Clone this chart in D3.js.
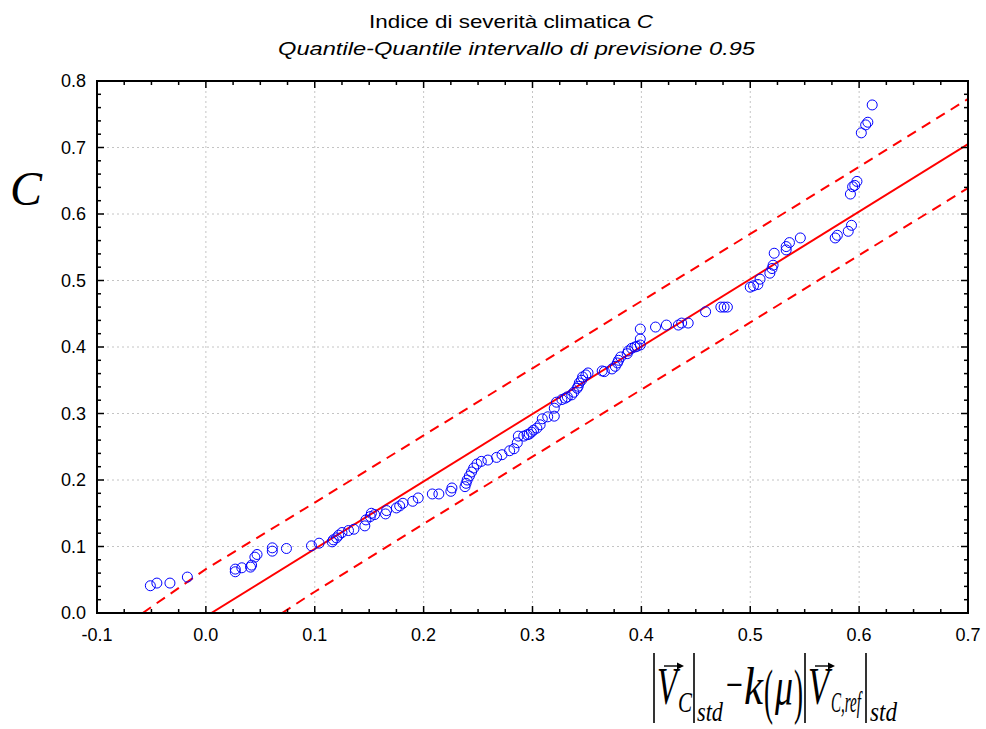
<!DOCTYPE html>
<html>
<head>
<meta charset="utf-8">
<script src="https://cdn.jsdelivr.net/npm/d3@7"></script>
<style>
  body { margin: 0; background: #fff; }
  svg { display: block; }
</style>
</head>
<body>
<svg id="chart" width="986" height="729"></svg>
<script>
// quantile-quantile points: x = |Vc|std - k(mu)|Vc,ref|std, c = C
const qqX = [-0.051,-0.045,-0.033,-0.017,0.027,0.027,0.033,0.041,0.042,0.045,0.047,0.061,0.061,0.074,0.097,0.104,
  0.116,0.117,0.120,0.122,0.125,0.131,0.136,0.146,0.147,0.151,0.152,0.155,0.165,0.166,0.175,0.178,0.181,0.190,0.195,
  0.208,0.214,0.225,0.226,0.238,0.239,0.240,0.242,0.244,0.246,0.249,0.253,0.259,0.267,0.272,0.279,0.283,0.286,0.287,
  0.292,0.295,0.297,0.299,0.301,0.304,0.307,0.309,0.314,0.320,0.320,0.322,0.327,0.330,0.332,0.336,0.338,0.341,0.342,
  0.343,0.345,0.346,0.349,0.351,0.364,0.366,0.373,0.376,0.378,0.379,0.381,0.387,0.388,0.391,0.394,0.396,0.399,0.399,
  0.399,0.413,0.423,0.434,0.437,0.443,0.459,0.473,0.476,0.479,0.500,0.503,0.507,0.509,0.518,0.520,0.521,0.522,0.533,
  0.533,0.536,0.546,0.578,0.580,0.590,0.593,0.592,0.594,0.596,0.598,0.602,0.606,0.608,0.612]
const qqC = [0.041,0.045,0.045,0.054,0.062,0.066,0.068,0.069,0.072,0.084,0.088,0.093,0.098,0.097,0.101,0.105,
  0.107,0.110,0.113,0.117,0.121,0.124,0.126,0.131,0.140,0.145,0.150,0.148,0.149,0.154,0.158,0.161,0.165,0.168,0.173,
  0.179,0.179,0.183,0.188,0.190,0.195,0.200,0.206,0.212,0.218,0.224,0.228,0.230,0.234,0.238,0.244,0.247,0.256,0.266,
  0.266,0.268,0.269,0.272,0.275,0.278,0.283,0.292,0.295,0.296,0.308,0.317,0.321,0.323,0.325,0.328,0.332,0.338,0.341,
  0.346,0.350,0.355,0.358,0.361,0.364,0.363,0.367,0.371,0.376,0.380,0.385,0.390,0.394,0.398,0.400,0.401,0.403,0.412,
  0.427,0.430,0.433,0.433,0.436,0.436,0.453,0.460,0.460,0.460,0.490,0.492,0.494,0.502,0.511,0.518,0.523,0.541,0.546,
  0.551,0.557,0.564,0.564,0.568,0.574,0.583,0.630,0.641,0.643,0.649,0.722,0.734,0.738,0.764]

// fitted line and 0.95 prediction band
const fitLine = [[0.005, 0.0], [0.7, 0.705]]
const upperBand = [[-0.058,0],[0,0.066],[0.1,0.166],[0.2,0.267],[0.3,0.368],[0.4,0.469],[0.5,0.570],[0.6,0.671],[0.7,0.773]]
const lowerBand = [[0.07,0],[0.1,0.032],[0.2,0.134],[0.3,0.235],[0.4,0.336],[0.5,0.437],[0.6,0.538],[0.7,0.639]]

const xTicks = [-0.1, 0.0, 0.1, 0.2, 0.3, 0.4, 0.5, 0.6, 0.7]
const yTicks = [0.0, 0.1, 0.2, 0.3, 0.4, 0.5, 0.6, 0.7, 0.8]

const titleText = 'Indice di severità climatica '
const subtitleText = 'Quantile-Quantile intervallo di previsione 0.95'

const svg = d3.select('#chart')
const L = 97, R = 968, T = 81, B = 613

const x = d3.scaleLinear().domain([-0.1, 0.7]).range([L, R])
const y = d3.scaleLinear().domain([0, 0.8]).range([B, T])
const fmt = d => d3.format('.1f')(d).replace('\u2212', '-')

svg.append('defs').append('clipPath').attr('id', 'plotClip')
    .append('rect').attr('x', L).attr('y', T).attr('width', R - L).attr('height', B - T)

// grid
let grid = svg.append('g')
grid.selectAll('.vg')
    .data(xTicks.slice(1, -1))
    .enter().append('line')
    .attr('x1', d => x(d)).attr('x2', d => x(d))
    .attr('y1', T).attr('y2', B)
    .attr('stroke', '#c4c4c4').attr('stroke-dasharray', '2,3')
grid.selectAll('.hg')
    .data(yTicks.slice(1, -1))
    .enter().append('line')
    .attr('y1', d => y(d)).attr('y2', d => y(d))
    .attr('x1', L).attr('x2', R)
    .attr('stroke', '#c4c4c4').attr('stroke-dasharray', '2,3')

// lines
let line = d3.line().x(d => x(d[0])).y(d => y(d[1]))
let lines = svg.append('g').attr('clip-path', 'url(#plotClip)')
lines.append('path').datum(fitLine)
    .attr('d', line).attr('fill', 'none').attr('stroke', '#ff0000').attr('stroke-width', 2)
;[upperBand, lowerBand].forEach(band => {
    lines.append('path').datum(band)
        .attr('d', line).attr('fill', 'none').attr('stroke', '#ff0000')
        .attr('stroke-width', 2).attr('stroke-dasharray', '10,7')
})

// points
svg.append('g')
    .selectAll('circle')
    .data(qqX.map((d, i) => [d, qqC[i]]))
    .enter().append('circle')
    .attr('cx', d => x(d[0])).attr('cy', d => y(d[1]))
    .attr('r', 5)
    .attr('fill', 'none').attr('stroke', '#0000ff').attr('stroke-width', 1)

// frame with inward ticks on four sides
let xMinor = d3.range(-0.1, 0.7001, 0.025)
let yMinor = d3.range(0, 0.8001, 0.02)
let frame = svg.append('g').attr('stroke', '#000')
frame.append('rect').attr('x', L).attr('y', T).attr('width', R - L).attr('height', B - T)
    .attr('fill', 'none').attr('stroke-width', 2)
const isMajor = v => Math.abs(v * 10 - Math.round(v * 10)) < 1e-6
xMinor.forEach(v => {
    let len = isMajor(v) ? 7 : 4
    frame.append('line').attr('x1', x(v)).attr('x2', x(v)).attr('y1', B).attr('y2', B - len).attr('stroke-width', 1.5)
    frame.append('line').attr('x1', x(v)).attr('x2', x(v)).attr('y1', T).attr('y2', T + len).attr('stroke-width', 1.5)
})
yMinor.forEach(v => {
    let len = isMajor(v) ? 7 : 4
    frame.append('line').attr('y1', y(v)).attr('y2', y(v)).attr('x1', L).attr('x2', L + len).attr('stroke-width', 1.5)
    frame.append('line').attr('y1', y(v)).attr('y2', y(v)).attr('x1', R).attr('x2', R - len).attr('stroke-width', 1.5)
})

// tick labels
svg.append('g')
    .selectAll('text')
    .data(yTicks)
    .enter().append('text')
    .attr('x', 86).attr('y', d => y(d) + 6)
    .attr('text-anchor', 'end')
    .style('font', '18px "Liberation Sans", Arial, sans-serif')
    .text(fmt)
svg.append('g')
    .selectAll('text')
    .data(xTicks)
    .enter().append('text')
    .attr('x', d => x(d)).attr('y', 641)
    .attr('text-anchor', 'middle')
    .style('font', '18px "Liberation Sans", Arial, sans-serif')
    .text(fmt)

// titles
let t1 = svg.append('text').attr('x', 369).attr('y', 28)
    .attr('textLength', 284).attr('lengthAdjust', 'spacingAndGlyphs')
    .style('font', '19px "Liberation Sans", Arial, sans-serif')
t1.append('tspan').text(titleText)
t1.append('tspan').style('font-style', 'italic').text('C')
svg.append('text').attr('x', 278).attr('y', 55)
    .attr('textLength', 477).attr('lengthAdjust', 'spacingAndGlyphs')
    .style('font', 'italic 19px "Liberation Sans", Arial, sans-serif')
    .text(subtitleText)

// y axis label
svg.append('text').attr('x', 10).attr('y', 205)
    .style('font', 'italic 48px "Liberation Serif", "Times New Roman", serif')
    .text('C')

// x axis formula
const serif = '"Liberation Serif", "Times New Roman", serif'
let formula = svg.append('g')
const pieces = [
    { t: 'V', x: 657, w: 20, y: 704, s: 52, it: true },
    { t: 'C', x: 678, w: 14, y: 712, s: 30, it: true },
    { t: 'std', x: 697, w: 26, y: 721, s: 28, it: true },
    { t: '\u2212', x: 726, w: 17, y: 700, s: 46, it: false },
    { t: 'k', x: 744, w: 19, y: 704, s: 52, it: true },
    { t: '(', x: 764, w: 9, y: 712, s: 62, it: false },
    { t: '\u03bc', x: 775, w: 18, y: 704, s: 52, it: true },
    { t: ')', x: 794, w: 9, y: 712, s: 62, it: false },
    { t: 'V', x: 808, w: 21, y: 704, s: 52, it: true },
    { t: 'C,ref', x: 831, w: 30, y: 712, s: 30, it: true },
    { t: 'std', x: 870, w: 27, y: 721, s: 28, it: true }
]
pieces.forEach(p => {
    formula.append('text')
        .attr('x', p.x).attr('y', p.y)
        .attr('textLength', p.w).attr('lengthAdjust', 'spacingAndGlyphs')
        .style('font-family', serif).style('font-size', p.s + 'px')
        .style('font-style', p.it ? 'italic' : 'normal')
        .text(p.t)
})
;[654, 694, 805, 866].forEach(bx => {
    formula.append('line').attr('x1', bx).attr('x2', bx).attr('y1', 653).attr('y2', 723)
        .attr('stroke', '#000').attr('stroke-width', 1.6)
})
;[[664, 682], [815, 833]].forEach(a => {
    formula.append('line').attr('x1', a[0]).attr('x2', a[1]).attr('y1', 666).attr('y2', 666)
        .attr('stroke', '#000').attr('stroke-width', 1.4)
    formula.append('path')
        .attr('d', `M${a[1] + 2},666 L${a[1] - 5},662.5 L${a[1] - 5},669.5 Z`)
        .attr('fill', '#000')
})
</script>
</body>
</html>
